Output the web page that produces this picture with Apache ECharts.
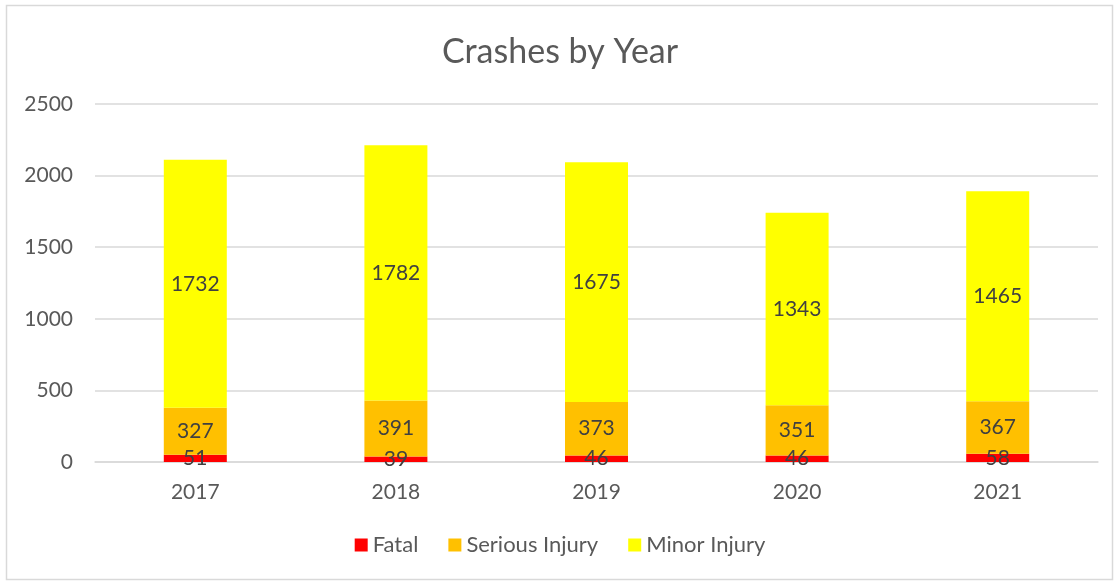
<!DOCTYPE html>
<html>
<head>
<meta charset="utf-8">
<script src="https://cdn.jsdelivr.net/npm/echarts@6/dist/echarts.min.js"></script>
<style>
  html, body { margin: 0; padding: 0; background: #fff; }
  #chart { width: 1120px; height: 584px; }
</style>
</head>
<body>
<div id="chart"></div>
<script>
const years = ['2017', '2018', '2019', '2020', '2021']
const fatal = [51, 39, 46, 46, 58]
const serious = [327, 391, 373, 351, 367]
const minor = [1732, 1782, 1675, 1343, 1465]

const font = 'Lato, "Liberation Sans", sans-serif'
const textColor = '#595959'

const chart = echarts.init(document.getElementById('chart'))

function barSeries(name, data, color) {
  return {
    name,
    type: 'bar',
    stack: 'total',
    data,
    barWidth: 63,
    itemStyle: { color },
    label: {
      show: true,
      position: 'inside',
      color: '#404040',
      fontSize: 21,
      fontFamily: font,
    },
  }
}

chart.setOption({
  animation: false,
  title: {
    text: 'Crashes by Year',
    left: 'center',
    top: 30,
    textStyle: { fontSize: 34, fontWeight: 'normal', color: textColor, fontFamily: font },
  },
  legend: {
    bottom: 23,
    left: 'center',
    itemWidth: 13,
    itemHeight: 13,
    itemGap: 30,
    icon: 'rect',
    textStyle: { fontSize: 22, color: textColor, fontFamily: font },
  },
  grid: { left: 95, right: 22, top: 104, bottom: 122 },
  xAxis: {
    type: 'category',
    data: years,
    axisLine: { lineStyle: { color: '#d9d9d9', width: 1.5 } },
    axisTick: { show: false },
    axisLabel: { fontSize: 21, color: textColor, fontFamily: font, margin: 20 },
  },
  yAxis: {
    type: 'value',
    min: 0,
    max: 2500,
    interval: 500,
    axisLine: { show: false },
    axisTick: { show: false },
    axisLabel: { fontSize: 21, color: textColor, fontFamily: font, margin: 22, formatter: v => String(v) },
    splitLine: { lineStyle: { color: '#d9d9d9', width: 1.5 } },
  },
  graphic: [{
    type: 'rect',
    shape: { x: 6.5, y: 5.5, width: 1106, height: 574 },
    style: { fill: 'none', stroke: '#d9d9d9', lineWidth: 1.5 },
    silent: true,
  }],
  series: [
    barSeries('Fatal', fatal, '#ff0000'),
    barSeries('Serious Injury', serious, '#ffc000'),
    barSeries('Minor Injury', minor, '#ffff00'),
  ],
})
</script>
</body>
</html>
